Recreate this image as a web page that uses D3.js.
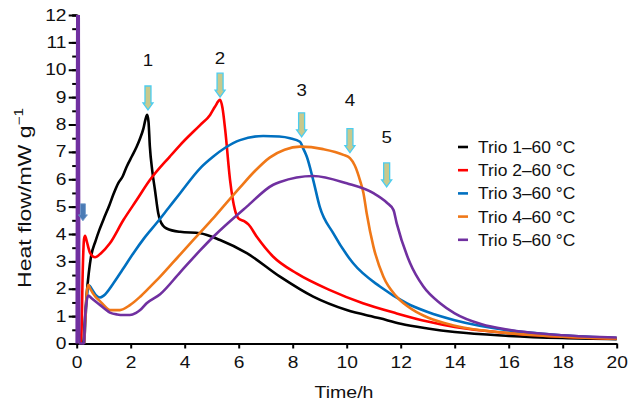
<!DOCTYPE html>
<html>
<head>
<meta charset="utf-8">
<script src="https://cdn.jsdelivr.net/npm/d3@7"></script>
<style>
  body { margin: 0; background: #fff; }
  svg { display: block; font-family: "Liberation Sans", Arial, sans-serif; }
</style>
</head>
<body>
<svg id="chart" width="638" height="401"></svg>
<script>
// Series: [time (h), heat flow (mW/g)]
const trio1 = [[0.25,0],[0.3,0.8],[0.37,1.8],[0.45,2.6],[0.53,3.17],[0.7,3.75],[0.84,4.15],[1.0,4.55],[1.21,5.05],[1.36,5.45],[1.54,5.86],[1.7,6.1],[1.85,6.46],[2.05,6.85],[2.22,7.19],[2.35,7.5],[2.47,7.85],[2.55,8.2],[2.61,8.35],[2.66,8.1],[2.71,7.19],[2.8,6.3],[2.9,5.6],[3.02,4.76],[3.09,4.5],[3.2,4.3],[3.33,4.2],[3.83,4.08],[4.57,4.03],[5.31,3.78],[6.3,3.3],[7.53,2.44],[8.76,1.71],[10.0,1.22],[11.23,0.92],[12,0.72],[13,0.55],[14,0.42],[16,0.28],[18,0.2],[20,0.16]];
const trio2 = [[0.14,0],[0.18,0.5],[0.22,2.5],[0.27,3.8],[0.31,3.93],[0.38,3.7],[0.5,3.3],[0.68,3.15],[0.9,3.3],[1.23,3.66],[1.73,4.51],[2.22,5.24],[2.71,5.97],[3.45,6.83],[3.83,7.25],[4.57,7.98],[4.94,8.35],[5.12,8.65],[5.31,8.9],[5.4,8.6],[5.5,7.8],[5.68,5.97],[5.86,4.88],[5.99,4.57],[6.2,4.47],[6.36,4.35],[6.67,3.9],[7.28,3.17],[8.15,2.56],[9.38,1.95],[10.6,1.47],[11.85,1.1],[13,0.8],[14,0.6],[16,0.38],[18,0.25],[20,0.18]];
const trio3 = [[0.28,0],[0.33,1.0],[0.4,1.9],[0.47,2.12],[0.55,2.0],[0.7,1.78],[0.86,1.68],[1.0,1.75],[1.36,2.2],[1.7,2.7],[2.1,3.3],[2.5,3.85],[2.96,4.4],[3.4,4.95],[3.83,5.49],[4.57,6.4],[5.06,6.83],[5.5,7.15],[6.05,7.43],[6.91,7.58],[7.5,7.56],[7.9,7.5],[8.27,7.37],[8.4,7.1],[8.52,6.83],[8.76,5.97],[9.0,5.0],[9.5,4.03],[10.24,2.93],[11.23,2.08],[12.22,1.47],[13,1.15],[14,0.85],[16,0.48],[18,0.3],[20,0.2]];
const trio4 = [[0.28,0],[0.33,1.0],[0.38,1.9],[0.43,2.14],[0.5,2.0],[0.7,1.7],[0.86,1.55],[1.05,1.35],[1.23,1.22],[1.6,1.22],[1.97,1.4],[2.35,1.71],[2.7,2.05],[3.09,2.44],[3.83,3.25],[4.57,4.05],[5.06,4.58],[5.5,5.08],[6.05,5.7],[6.6,6.3],[7.16,6.8],[7.7,7.08],[8.27,7.19],[9.13,7.1],[9.88,6.89],[10.12,6.77],[10.3,6.5],[10.49,5.97],[10.62,5.5],[10.74,4.76],[10.99,3.54],[11.36,2.44],[11.85,1.71],[12.47,1.22],[13,0.95],[14,0.65],[16,0.38],[18,0.25],[20,0.18]];
const trio5 = [[0.0,0],[0.03,13],[0.07,13],[0.1,0],[0.27,0],[0.31,0.9],[0.37,1.55],[0.43,1.75],[0.55,1.65],[0.86,1.41],[1.23,1.13],[1.5,1.06],[1.73,1.04],[1.97,1.04],[2.2,1.12],[2.35,1.22],[2.59,1.47],[3.09,1.8],[3.83,2.6],[4.57,3.4],[5.06,3.9],[6.3,5.0],[7.28,5.8],[7.53,5.9],[8.76,6.12],[10.0,5.85],[10.99,5.49],[11.48,5.15],[11.73,4.88],[11.85,4.4],[12.35,2.93],[12.84,2.08],[13.46,1.47],[14,1.1],[15,0.7],[16,0.5],[18,0.3],[20,0.22]];

const seriesNames = ["Trio 1–60 °C", "Trio 2–60 °C", "Trio 3–60 °C", "Trio 4–60 °C", "Trio 5–60 °C"];
const seriesColors = ["#000000", "#ff0000", "#0070c0", "#f07818", "#7030a0"];
const seriesData = [trio1, trio2, trio3, trio4, trio5];

// Peak markers: arrow time, arrow tip value, label value
const peakLabels = ["1", "2", "3", "4", "5"];
const peakTime = [2.64, 5.31, 8.33, 10.12, 11.48];
const peakTip = [8.53, 9.0, 7.55, 6.97, 5.72];
const peakLabelY = [10.36, 10.42, 9.26, 8.9, 7.53];
const startArrow = [0.23, 4.48];

const xTicks = d3.range(0, 21, 2);
const yTicks = d3.range(0, 13, 1);
const yMinorTicks = d3.range(0, 12.01, 0.5);

const svg = d3.select("#chart");
const x = d3.scaleLinear().domain([0, 20]).range([76.7, 616.7]);
const y = d3.scaleLinear().domain([0, 12]).range([343.5, 15]);

// axes
const gx = svg.append("g").attr("transform", `translate(0,${y(0)})`)
    .call(d3.axisBottom(x).tickValues(xTicks).tickSize(5).tickSizeOuter(0));
gx.selectAll("text").attr("y", 13).attr("font-size", 16).attr("fill", "#111")
    .attr("transform", "scale(1.2,1)");

const gyMinor = svg.append("g").attr("transform", `translate(${x(0)},0)`)
    .call(d3.axisLeft(y).tickValues(yMinorTicks).tickSize(4.5).tickFormat(""));
const gy = svg.append("g").attr("transform", `translate(${x(0)},0)`)
    .call(d3.axisLeft(y).tickValues(yTicks).tickSize(8).tickSizeOuter(0));
gy.selectAll("text").attr("x", -8.5).attr("font-size", 16).attr("fill", "#111")
    .attr("transform", "scale(1.2,1)");

svg.selectAll(".domain, .tick line").attr("stroke", "#000").attr("stroke-width", 2);

// axis titles
svg.append("text").attr("transform", `translate(344,398) scale(1.15,1)`)
    .attr("text-anchor", "middle").attr("font-size", 17).attr("fill", "#111").text("Time/h");
const yt = svg.append("text").attr("transform", "translate(31,198) rotate(-90) scale(1.28,1)")
    .attr("text-anchor", "middle").attr("font-size", 18).attr("fill", "#111");
yt.append("tspan").text("Heat flow/mW g");
yt.append("tspan").attr("font-size", 12).attr("dy", -8).text("−1");

// curves
svg.append("clipPath").attr("id", "clip").append("rect")
    .attr("x", 70).attr("y", y(12)).attr("width", x(20) - 70 + 4).attr("height", y(0) - y(12) + 2);
const line = d3.line().x(d => x(d[0])).y(d => y(d[1])).curve(d3.curveMonotoneX);
svg.append("g").attr("clip-path", "url(#clip)")
    .selectAll("path").data(seriesData).join("path")
    .attr("d", line).attr("fill", "none")
    .attr("stroke", (d, i) => seriesColors[i]).attr("stroke-width", 2.6)
    .attr("stroke-linejoin", "round");

// arrows
function arrowPath(cx, tip, bw, hw, len, hl) {
    return `M${cx - bw/2},${tip - len} L${cx + bw/2},${tip - len} L${cx + bw/2},${tip - hl} L${cx + hw/2},${tip - hl} L${cx},${tip} L${cx - hw/2},${tip - hl} L${cx - bw/2},${tip - hl} Z`;
}
svg.append("g").selectAll("path").data(peakTime).join("path")
    .attr("d", (d, i) => arrowPath(x(d), y(peakTip[i]), 6, 10, 24, 7))
    .attr("fill", "#c8c98c").attr("stroke", "#4ccdf0").attr("stroke-width", 1.3);
svg.append("g").selectAll("text").data(peakLabels).join("text")
    .attr("transform", (d, i) => `translate(${x(peakTime[i])},${y(peakLabelY[i]) + 6}) scale(1.1,1)`)
    .attr("text-anchor", "middle").attr("font-size", 17).attr("fill", "#111").text(d => d);
svg.append("path")
    .attr("d", arrowPath(x(startArrow[0]), y(startArrow[1]), 5, 9, 17, 6))
    .attr("fill", "#4b7bb5").attr("stroke", "#6b95c8").attr("stroke-width", 0.8);

// legend
const legend = svg.append("g").selectAll("g").data(seriesNames).join("g")
    .attr("transform", (d, i) => `translate(458,${147 + i * 23.2})`);
legend.append("line").attr("x1", 0).attr("x2", 10)
    .attr("stroke", (d, i) => seriesColors[i]).attr("stroke-width", 2.6);
legend.append("text").attr("transform", "translate(20,6) scale(1.09,1)")
    .attr("font-size", 16).attr("fill", "#111").text(d => d);
</script>
</body>
</html>
